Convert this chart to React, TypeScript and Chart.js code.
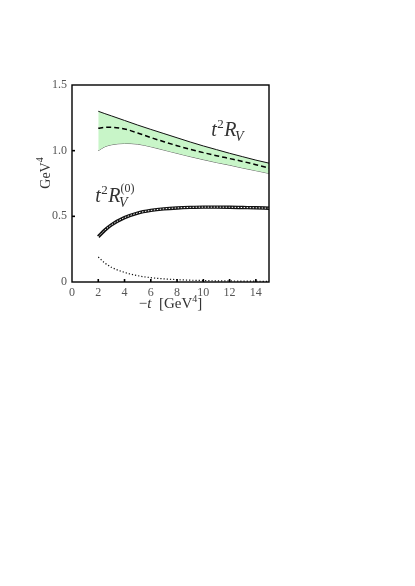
import { useEffect, useRef } from 'react';
import { Chart, registerables, type Plugin } from 'chart.js';

Chart.register(...registerables);

/* ─── Data ───────────────────────────────────────────────────────────────── */

const T_VALUES   = [2, 2.5, 3, 4, 5, 6, 7, 8, 9, 10, 11, 12, 13, 14, 15];

// t^2 R_V : upper / central / lower edge of the band
const RV_UPPER   = [1.30, 1.282, 1.265, 1.23, 1.195, 1.162, 1.13, 1.098, 1.066, 1.036, 1.008, 0.98, 0.954, 0.928, 0.905];
const RV_CENTRAL = [1.17, 1.177, 1.178, 1.165, 1.135, 1.10, 1.068, 1.038, 1.01, 0.985, 0.962, 0.94, 0.918, 0.893, 0.868];
const RV_LOWER   = [1.00, 1.03, 1.045, 1.055, 1.05, 1.03, 1.005, 0.98, 0.955, 0.932, 0.91, 0.89, 0.868, 0.848, 0.827];

// t^2 R_V^(0)
const RV0        = [0.345, 0.395, 0.435, 0.49, 0.525, 0.545, 0.557, 0.564, 0.568, 0.57, 0.57, 0.569, 0.567, 0.565, 0.562];

// small dotted contribution
const RV_SMALL   = [0.19, 0.145, 0.112, 0.073, 0.048, 0.033, 0.024, 0.018, 0.014, 0.011, 0.009, 0.008, 0.007, 0.006, 0.005];

const X_TICK_LABELS = [0, 2, 4, 6, 8, 10, 12, 14];
const Y_TICK_LABELS = [0, 0.5, 1.0, 1.5];
const X_TICK_MARKS  = [2, 4, 6, 8, 10, 12, 14];
const Y_TICK_MARKS  = [0.5, 1.0];

/* ─── Style ──────────────────────────────────────────────────────────────── */

const SERIF = "'Liberation Serif', 'DejaVu Serif', serif";
const BAND_FILL = '#c8f5c8';
const TEXT = '#333';

const pts = (ys: number[]) => T_VALUES.map((t, i) => ({ x: t, y: ys[i] }));

/* ─── Helpers ────────────────────────────────────────────────────────────── */

// draws t^2 R_V with an optional (0) superscript on R
function drawTRV(ctx: CanvasRenderingContext2D, x: number, y: number, withZero: boolean) {
  ctx.font = `italic 20px ${SERIF}`;
  ctx.fillText('t', x, y);
  x += ctx.measureText('t').width + 0.5;
  ctx.font = `13px ${SERIF}`;
  ctx.fillText('2', x, y - 8);
  x += ctx.measureText('2').width + 0.5;
  ctx.font = `italic 20px ${SERIF}`;
  ctx.fillText('R', x, y);
  x += ctx.measureText('R').width;
  ctx.font = `italic 14px ${SERIF}`;
  ctx.fillText('V', x - 1.5, y + 5);
  if (withZero) {
    ctx.font = `12px ${SERIF}`;
    ctx.fillText('(0)', x, y - 10);
  }
}

/* ─── Frame, inward ticks and the math labels ────────────────────────────── */

const framePlugin: Plugin<'line'> = {
  id: 'frame',
  afterDraw(chart) {
    const { ctx, chartArea: a, scales } = chart;
    const xs = scales.x;
    const ys = scales.y;
    ctx.save();

    // inward tick marks
    ctx.strokeStyle = '#000';
    ctx.lineWidth = 1.6;
    for (const v of X_TICK_MARKS) {
      const px = xs.getPixelForValue(v);
      ctx.beginPath();
      ctx.moveTo(px, a.bottom);
      ctx.lineTo(px, a.bottom - 3);
      ctx.stroke();
    }
    for (const v of Y_TICK_MARKS) {
      const py = ys.getPixelForValue(v);
      ctx.beginPath();
      ctx.moveTo(a.left, py);
      ctx.lineTo(a.left + 3, py);
      ctx.stroke();
    }

    // box
    ctx.lineWidth = 1.4;
    ctx.strokeRect(a.left, a.top, a.right - a.left, a.bottom - a.top);

    ctx.fillStyle = TEXT;
    ctx.textBaseline = 'alphabetic';
    ctx.textAlign = 'left';

    drawTRV(ctx, xs.getPixelForValue(10.6), ys.getPixelForValue(1.11), false);
    drawTRV(ctx, xs.getPixelForValue(1.77), ys.getPixelForValue(0.61), true);

    // x title: −t [GeV^4]
    const cx = (a.left + a.right) / 2;
    const by = a.bottom + 26;
    ctx.font = `15px ${SERIF}`;
    const w1 = ctx.measureText('−').width;
    const w2 = ctx.measureText('  [GeV').width;
    const w3 = ctx.measureText(']').width;
    ctx.font = `italic 15px ${SERIF}`;
    const wt = ctx.measureText('t').width;
    ctx.font = `10px ${SERIF}`;
    const ws = ctx.measureText('4').width;
    let tx = cx - (w1 + wt + w2 + ws + w3) / 2;
    ctx.font = `15px ${SERIF}`;
    ctx.fillText('−', tx, by); tx += w1;
    ctx.font = `italic 15px ${SERIF}`;
    ctx.fillText('t', tx, by); tx += wt;
    ctx.font = `15px ${SERIF}`;
    ctx.fillText('  [GeV', tx, by); tx += w2;
    ctx.font = `10px ${SERIF}`;
    ctx.fillText('4', tx, by - 6); tx += ws;
    ctx.font = `15px ${SERIF}`;
    ctx.fillText(']', tx, by);

    // y title: GeV^4 (rotated)
    ctx.translate(a.left - 26, a.top + 88);
    ctx.rotate(-Math.PI / 2);
    ctx.font = `14px ${SERIF}`;
    const wg = ctx.measureText('GeV').width;
    ctx.font = `10px ${SERIF}`;
    const w4 = ctx.measureText('4').width;
    let gx = -(wg + w4) / 2;
    ctx.font = `14px ${SERIF}`;
    ctx.fillText('GeV', gx, 4); gx += wg;
    ctx.font = `10px ${SERIF}`;
    ctx.fillText('4', gx, -3);

    ctx.restore();
  },
};

/* ─── Component ──────────────────────────────────────────────────────────── */

export default function App() {
  const canvasRef = useRef<HTMLCanvasElement>(null);

  useEffect(() => {
    document.body.style.margin = '0';
    if (!canvasRef.current) return;

    // higher `order` is drawn first (underneath)
    const chart = new Chart(canvasRef.current, {
      type: 'line',
      data: {
        datasets: [
          {
            label: 'lower',
            data: pts(RV_LOWER),
            borderColor: '#333',
            borderWidth: 0.8,
            pointRadius: 0,
            fill: false,
            order: 6,
            cubicInterpolationMode: 'monotone',
          },
          {
            label: 'upper',
            data: pts(RV_UPPER),
            borderColor: '#111',
            borderWidth: 1,
            backgroundColor: BAND_FILL,
            pointRadius: 0,
            fill: '-1',
            order: 5,
            cubicInterpolationMode: 'monotone',
          },
          {
            label: 'central',
            data: pts(RV_CENTRAL),
            borderColor: '#000',
            borderWidth: 1.5,
            borderDash: [5, 3],
            pointRadius: 0,
            fill: false,
            order: 4,
            cubicInterpolationMode: 'monotone',
          },
          {
            label: 'RV0',
            data: pts(RV0),
            borderColor: '#111',
            borderWidth: 3.4,
            pointRadius: 0,
            fill: false,
            order: 3,
            cubicInterpolationMode: 'monotone',
          },
          {
            label: 'RV0 inner',
            data: pts(RV0),
            borderColor: '#fff',
            borderWidth: 1,
            borderDash: [1.5, 1.5],
            pointRadius: 0,
            fill: false,
            order: 2,
            cubicInterpolationMode: 'monotone',
          },
          {
            label: 'small',
            data: pts(RV_SMALL),
            borderColor: '#111',
            borderWidth: 1.2,
            borderDash: [1.2, 2],
            pointRadius: 0,
            fill: false,
            order: 1,
            cubicInterpolationMode: 'monotone',
          },
        ],
      },
      options: {
        responsive: true,
        maintainAspectRatio: false,
        animation: false,
        layout: { padding: { left: 0, top: 85, right: 146, bottom: 284 } },
        plugins: {
          legend: { display: false },
          tooltip: { enabled: false },
        },
        scales: {
          x: {
            type: 'linear',
            min: 0,
            max: 15,
            grid: { display: false, drawTicks: false },
            border: { display: false },
            afterFit: (s) => { s.height = 20; },
            afterBuildTicks: (s) => { s.ticks = X_TICK_LABELS.map((value) => ({ value })); },
            ticks: {
              padding: 4,
              color: '#555',
              autoSkip: false,
              maxRotation: 0,
              font: { family: SERIF, size: 12 },
              callback: (v) => String(v),
            },
          },
          y: {
            type: 'linear',
            min: 0,
            max: 1.5,
            grid: { display: false, drawTicks: false },
            border: { display: false },
            afterFit: (s) => { s.width = 72; },
            afterBuildTicks: (s) => { s.ticks = Y_TICK_LABELS.map((value) => ({ value })); },
            ticks: {
              padding: 5,
              color: '#555',
              autoSkip: false,
              font: { family: SERIF, size: 12 },
              callback: (v) => (Number(v) === 0 ? '0' : Number(v).toFixed(1)),
            },
          },
        },
      },
      plugins: [framePlugin],
    });

    return () => { chart.destroy(); };
  }, []);

  return (
    <div style={{ position: 'relative', width: 415, height: 586, background: '#fff' }}>
      <canvas ref={canvasRef} />
    </div>
  );
}
